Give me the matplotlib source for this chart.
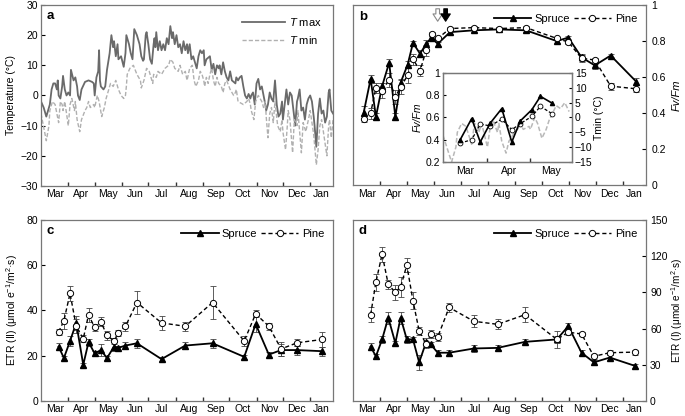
import matplotlib
matplotlib.use("Agg")
import matplotlib.pyplot as plt
import numpy as np

plt.rcParams['font.family'] = ['Liberation Sans', 'DejaVu Sans']
plt.rcParams['font.size'] = 7.5
plt.rcParams['mathtext.fontset'] = 'custom'
plt.rcParams['mathtext.rm'] = 'Liberation Sans'
plt.rcParams['mathtext.it'] = 'Liberation Sans:italic'

# ---------- data ----------
months = ["Mar", "Apr", "May", "Jun", "Jul", "Aug", "Sep", "Oct", "Nov", "Dec", "Jan"]
month_start = [0, 31, 61, 92, 122, 153, 184, 214, 245, 275, 306]

# daily temperature (day 0 = 1 Mar)
tmax_day = [0, 3, 6, 8, 10, 12, 14, 16, 18, 19,
            20, 22, 24, 25, 27, 29, 31, 33, 34, 37,
            39, 41, 42, 44, 46, 50, 54, 58, 60, 61,
            63, 65, 66, 67, 68, 71, 73, 75, 78, 80,
            82, 83, 85, 87, 88, 91, 94, 96, 97, 99,
            100, 102, 104, 106, 109, 112, 114, 116, 117, 119,
            120, 122, 124, 126, 128, 129, 130, 131, 133, 135,
            137, 139, 141, 143, 145, 147, 149, 150, 152, 154,
            156, 158, 160, 162, 164, 166, 167, 169, 171, 173,
            175, 177, 179, 181, 183, 185, 186, 188, 190, 192,
            194, 196, 198, 200, 202, 203, 205, 207, 209, 211,
            213, 215, 217, 219, 221, 222, 224, 226, 228, 230,
            232, 234, 236, 238, 239, 241, 243, 245, 247, 249,
            251, 253, 255, 256, 258, 260, 262, 264, 266, 268,
            270, 272, 274, 275, 277, 279, 281, 283, 285, 287,
            289, 291, 292, 294, 296, 298, 300, 302, 304, 306,
            308, 310, 311, 313, 315, 317, 319, 321, 323, 325,
            327, 328, 330, 332]
tmax = [-2, -4, -7, -5, -3, 2, 4, 4, 2, 5,
        0, -1, 3, 6.5, 2, 0, 1, 0, 8.5, 5,
        6, 3, 0, -1.5, 2, 4.5, 5, 4.5, 4, 0,
        6, 8, 15, 5, 3, 2, 3, 8.5, 14, 20,
        16, 18, 13, 17, 12, 13, 9.5, 14, 20, 18,
        17, 14, 12, 22, 20, 17, 13, 11.5, 12, 20,
        21, 17, 12, 10.5, 17, 19, 16, 21, 15, 18,
        15, 17, 15, 19, 17, 23, 19, 21, 17, 20,
        16, 17, 14, 18, 15, 17, 14, 17, 12, 13,
        11, 9, 13, 15, 14, 15, 10, 12, 12.5, 13,
        8.5, 10.5, 7, 10, 9, 10, 7, 11, 8, 6,
        5, 8, 5, 4.5, 4, 6, 5, 6, 6.5, 3,
        0, -1, 0.5, -1, 0, 1, -3, 4, 5.5, 2,
        3, 0, -3, -5, -3, 1, -1, -2, 5, -3,
        -7, -6, -2, -8, -3, 2, -3, 1, 0, -5,
        -10, -2, -1, 2, -5, -4, -8, -3, -1, 0,
        -2, -7, -10, -17, -6, -1, -6, -5, -9, -7,
        1, 2, -5, -6]

tmin_day = [0, 6, 9, 10, 13, 16, 20, 22, 24, 25,
            27, 31, 33, 35, 38, 39, 41, 44, 46, 50,
            52, 54, 56, 60, 61, 64, 66, 69, 72, 74,
            77, 79, 82, 85, 88, 91, 94, 96, 97, 98,
            101, 105, 109, 113, 114, 117, 120, 123, 125, 127,
            128, 131, 133, 137, 141, 145, 147, 150, 152, 156,
            158, 161, 164, 166, 169, 172, 174, 176, 179, 181,
            183, 185, 186, 188, 190, 192, 194, 196, 198, 200,
            202, 205, 207, 209, 211, 215, 219, 221, 222, 224,
            230, 234, 236, 238, 239, 242, 244, 247, 251, 253,
            255, 256, 258, 260, 262, 264, 266, 269, 272, 274,
            275, 278, 280, 281, 283, 286, 288, 291, 292, 296,
            298, 301, 304, 306, 310, 313, 315, 317, 319, 322,
            325, 327, 328, 330, 332]
tmin = [-6, -15, -10, -5, -2, -3, -9, -2, -3, -5,
        -2, -10, -3, -1, -5, -2, -8, -12, -8, -5,
        -4, -2, -4, -3, -4, 0, -2, -7, -4, -1,
        2, 4, 3, 5, 2, 0, -1, 0, 3, 7,
        9, 10, 7, 5, 2.5, 5, 9, 8, 6, 4,
        7, 6, 8, 7, 9, 10, 12, 11, 9, 8,
        10, 7, 8, 5, 9, 10, 5, 3, 5, 8,
        7, 5, 3, 6, 4, 7, 9, 5, 3, 6,
        4, 3, 1, 4, 5, 2, 0, 1, 2, -2,
        -3, -2, -1, -3, -5, -8, -2, 0, -2, -4,
        -2, -7, -14, -6, -4, -9, -2, -10, -12, -8,
        -12, -18, -10, -5, -8, -19, -8, -10, -5, -19,
        -9, -12, -8, -5, -13, -23, -18, -10, -8, -14,
        -20, -10, -8, -14, -8]

# Fv/Fm sampling days and values
fv_day = [12, 20, 26, 33, 41, 48, 54, 62, 68, 76, 83, 89, 96, 110, 137, 165, 196, 231, 244, 259, 274, 292, 321]
fv_spruce = [0.40, 0.59, 0.38, 0.55, 0.68, 0.38, 0.57, 0.67, 0.79, 0.73, 0.785, 0.82, 0.785,
             0.85, 0.86, 0.865, 0.86, 0.80, 0.82, 0.71, 0.665, 0.72, 0.575]
fv_spruce_err = [0.04, 0.02, 0.02, 0.02, 0.02, 0.02, 0.02, 0.02, 0.01, 0.02, 0.02, 0.01, 0.01,
                 0.01, 0.01, 0.01, 0.01, 0.01, 0.01, 0.02, 0.02, 0.01, 0.02]
fv_pine = [0.37, 0.40, 0.54, 0.525, 0.585, 0.49, 0.545, 0.61, 0.70, 0.635, 0.75, 0.84, 0.815,
           0.87, 0.875, 0.87, 0.875, 0.815, 0.795, 0.705, 0.695, 0.55, 0.535]
fv_pine_err = [0.02, 0.03, 0.03, 0.04, 0.04, 0.04, 0.04, 0.04, 0.03, 0.03, 0.03, 0.01, 0.01,
               0.01, 0.01, 0.01, 0.01, 0.01, 0.01, 0.02, 0.01, 0.02, 0.02]
n_inset = 10  # first spring measurements shown in inset

# ETR sampling days and values
etr_day = [20, 26, 33, 40, 48, 54, 61, 68, 75, 83, 88, 96, 109, 137, 164, 195, 231, 244, 259, 273, 291, 320]
etr2_spruce = [24, 19, 26.5, 34.5, 16, 26, 21, 22.5, 19, 24, 23.5, 24.5, 25.5, 18.5, 24.5, 25.5,
               19.5, 34, 20.5, 22.5, 22.5, 22]
etr2_spruce_err = [1.5, 1, 2, 3, 1, 1.5, 1, 2.5, 1, 2, 1, 1.5, 2, 1, 1.5, 2, 1, 3.5, 1, 2.5, 2, 2]
etr2_pine = [30.5, 35.5, 47.5, 33, 27.5, 38, 32.5, 35, 29, 26.5, 30, 33, 43.5, 34.5, 33, 43.5,
             26.5, 38.5, 33, 23, 25.7, 27.2]
etr2_pine_err = [1.5, 3.5, 3.5, 3, 1.5, 3, 1.5, 2, 2, 1.5, 1.5, 2, 5, 3, 2, 7.5, 2, 1.5, 1.5, 3, 1.5, 3.5]

etr1_spruce = [45, 37, 51, 69, 48, 69, 51, 51, 32, 49, 47, 40, 40, 43.5, 44, 49, 51, 62, 40, 32, 36, 29]
etr1_spruce_err = [3, 2, 3, 5, 2, 5, 3, 2, 6, 3, 2, 2, 2, 3, 2, 2, 3, 3, 2, 2, 2, 2]
etr1_pine = [71.5, 98.5, 121.5, 96.5, 90, 94.5, 112.5, 83, 58, 47, 55.5, 53, 77.5, 66, 63.5, 71.5,
             51, 57, 55.5, 37, 40, 40.5]
etr1_pine_err = [6, 7, 6, 4, 6, 8, 6, 7, 3, 3, 3, 3, 4, 5, 4, 6, 7, 2, 2, 2, 2, 2]

# ---------- figure ----------
fig = plt.figure(figsize=(6.85, 4.16), dpi=100)
ax_a = fig.add_axes([0.0599, 0.553, 0.4263, 0.435])
ax_b = fig.add_axes([0.5153, 0.555, 0.4277, 0.4327])
ax_c = fig.add_axes([0.0599, 0.036, 0.4263, 0.4355])
ax_d = fig.add_axes([0.5153, 0.036, 0.4277, 0.4355])

spine_col = "#777777"
pine_ls = (0, (3, 2))


def month_axis(ax, xmax=332, starts=month_start, labels=months):
    ax.set_xlim(0, xmax)
    ax.set_xticks(starts[1:])
    ax.set_xticklabels([])
    ends = starts[1:] + [xmax]
    centers = [(s + e) / 2 for s, e in zip(starts, ends)]
    ax.set_xticks(centers, minor=True)
    ax.set_xticklabels(labels, minor=True)
    ax.tick_params(axis="x", which="major", direction="in", length=3, width=1, color="#333333")
    ax.tick_params(axis="x", which="minor", length=0, pad=2.5)
    for s in ax.spines.values():
        s.set_color(spine_col)
        s.set_linewidth(0.9)


def species_plot(ax, x, sp, sp_err, pi, pi_err, ms=5):
    ax.errorbar(x, pi, yerr=pi_err, fmt="none", capsize=2, elinewidth=0.6, capthick=0.6,
                ecolor="#444444")
    ax.errorbar(x, sp, yerr=sp_err, fmt="none", capsize=2, elinewidth=0.6, capthick=0.6,
                ecolor="#444444")
    ax.plot(x, sp, color="black", ls="-", lw=1.3, marker="^", ms=ms, mfc="black", mec="black",
            label="Spruce")
    ax.plot(x, pi, color="black", ls=pine_ls, lw=1.0, marker="o", ms=ms - 0.5, mfc="white",
            mec="black", mew=0.7, label="Pine")
    ax.legend(loc="upper right", ncol=2, frameon=False, handlelength=3.4,
              columnspacing=0.3, handletextpad=0.3, borderaxespad=0.4, fontsize=8)


def panel_letter(ax, s):
    ax.text(0.02, 0.92, s, transform=ax.transAxes, fontweight="bold", fontsize=9.5)


# ---------- a: temperature ----------
ax_a.plot(tmax_day, tmax, color="#6a6a6a", lw=1.3, label="$T$ max")
ax_a.plot(tmin_day, tmin, color="#b0b0b0", lw=1.0, ls=(0, (3, 1.5)), label="$T$ min")
ax_a.set_ylim(-30, 30)
ax_a.set_yticks(range(-30, 31, 10))
ax_a.set_yticklabels(["\u221230", "\u221220", "\u221210", "0", "10", "20", "30"])
ax_a.tick_params(axis="y", direction="in", length=3, pad=2)
ax_a.set_ylabel("Temperature (\u00b0C)", labelpad=3)
month_axis(ax_a)
ax_a.legend(loc="upper right", frameon=False, handlelength=3.8, handletextpad=0.4,
            borderaxespad=0.6, fontsize=8)
panel_letter(ax_a, "a")

# ---------- b: Fv/Fm ----------
species_plot(ax_b, fv_day, fv_spruce, fv_spruce_err, fv_pine, fv_pine_err)
ax_b.set_ylim(0, 1)
ax_b.yaxis.tick_right()
ax_b.yaxis.set_label_position("right")
ax_b.set_yticks([0, 0.2, 0.4, 0.6, 0.8, 1])
ax_b.set_yticklabels(["0", "0.2", "0.4", "0.6", "0.8", "1"])
ax_b.tick_params(axis="y", direction="in", length=3, pad=4)
ax_b.set_ylabel("Fv/Fm", style="italic", labelpad=4, fontsize=8)
month_axis(ax_b)
panel_letter(ax_b, "b")
arrow_style = "simple,head_width=0.9,head_length=0.7,tail_width=0.35"
ax_b.annotate("", xy=(96, 0.895), xytext=(96, 0.995),
              arrowprops=dict(arrowstyle=arrow_style, fc="white", ec="#888888", lw=0.8))
ax_b.annotate("", xy=(105, 0.895), xytext=(105, 0.995),
              arrowprops=dict(arrowstyle=arrow_style, fc="black", ec="black", lw=0.8))

# inset
ax_in = fig.add_axes([0.6467, 0.6106, 0.1883, 0.2139])
ax_t = ax_in.twinx()
sel = [i for i, d in enumerate(tmin_day) if d <= 90]
ax_t.plot([tmin_day[i] for i in sel], [tmin[i] for i in sel], color="#b8b8b8", lw=1.1,
          ls=(0, (3, 1.5)))
ax_t.set_ylim(-15, 15)
ax_t.set_yticks(range(-15, 16, 5))
ax_t.set_yticklabels(["\u221215", "\u221210", "\u22125", "0", "5", "10", "15"])
ax_t.tick_params(axis="y", direction="in", length=2.5, pad=2, labelsize=7.5)
ax_t.set_ylabel("Tmin (\u00b0C)", fontsize=7.5, labelpad=1)
ax_in.set_zorder(ax_t.get_zorder() + 1)
ax_in.patch.set_visible(False)
ax_in.plot(fv_day[:n_inset], fv_pine[:n_inset], color="black", ls=(0, (2.5, 1.5)), lw=0.9,
           marker="o", ms=3.5, mfc="white", mec="black", mew=0.6)
ax_in.plot(fv_day[:n_inset], fv_spruce[:n_inset], color="black", lw=1.2, marker="^", ms=3,
           mfc="black")
ax_in.set_ylim(0.2, 1)
ax_in.set_yticks([0.2, 0.4, 0.6, 0.8, 1])
ax_in.set_yticklabels(["0.2", "0.4", "0.6", "0.8", "1"])
ax_in.tick_params(axis="y", direction="in", length=2.5, pad=2, labelsize=7.5)
ax_in.set_ylabel("Fv/Fm", style="italic", fontsize=7.5, labelpad=2)
month_axis(ax_in, xmax=90, starts=month_start[:3], labels=months[:3])
ax_in.tick_params(axis="x", which="minor", labelsize=7.5, pad=3)
for s in ax_t.spines.values():
    s.set_color(spine_col)
    s.set_linewidth(0.9)

# ---------- c: ETR II ----------
species_plot(ax_c, etr_day, etr2_spruce, etr2_spruce_err, etr2_pine, etr2_pine_err)
ax_c.set_ylim(0, 80)
ax_c.set_yticks(range(0, 81, 20))
ax_c.tick_params(axis="y", direction="in", length=3, pad=2)
ax_c.set_ylabel("ETR (II) (\u03bcmol e$^{-1}$/m$^{2}$\u00b7s)", labelpad=5)
month_axis(ax_c)
panel_letter(ax_c, "c")

# ---------- d: ETR I ----------
species_plot(ax_d, etr_day, etr1_spruce, etr1_spruce_err, etr1_pine, etr1_pine_err)
ax_d.set_ylim(0, 150)
ax_d.set_yticks(range(0, 151, 30))
ax_d.yaxis.tick_right()
ax_d.yaxis.set_label_position("right")
ax_d.tick_params(axis="y", direction="in", length=3, pad=3)
ax_d.set_ylabel("ETR (I) (\u03bcmol e$^{-1}$/m$^{2}$\u00b7s)", labelpad=1, fontsize=7.2)
month_axis(ax_d)
panel_letter(ax_d, "d")

fig.savefig("out.png", dpi=100)
